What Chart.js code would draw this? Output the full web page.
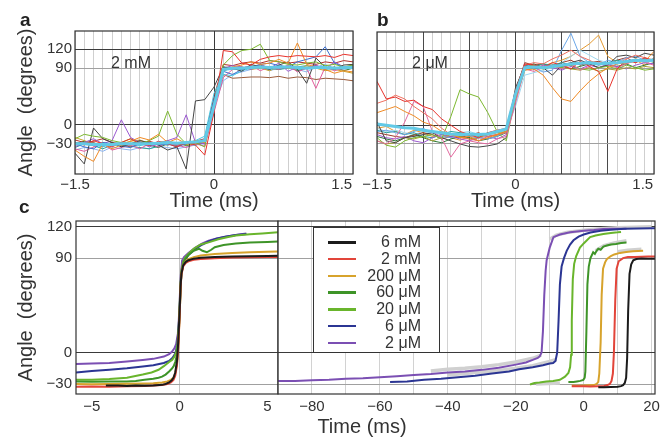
<!DOCTYPE html>
<html>
<head>
<meta charset="utf-8">
<script src="https://cdn.jsdelivr.net/npm/chart.js@4.4.1/dist/chart.umd.min.js"></script>
<style>
  html, body { margin: 0; padding: 0; background: #fff; }
  #wrap { position: relative; width: 661px; height: 439px; background: #fff; overflow: hidden;
          font-family: 'Liberation Sans', Arial, Helvetica, sans-serif; color: #333; }
  canvas { position: absolute; }
  .txt { position: absolute; white-space: nowrap; line-height: 1.2; transform: translate(-50%, -50%); }
  .letter { position: absolute; font-weight: bold; font-size: 19px; line-height: 19px; color: #222; }
  #legend { position: absolute; left: 313px; top: 227px; width: 127px; height: 126px; box-sizing: border-box;
            border: 1px solid #333; background: #fff; padding-top: 6px; z-index: 5; }
  .row { position: relative; height: 16.8px; font-size: 16px; line-height: 16.8px; }
  .row span.ln { position: absolute; left: 14px; top: 7px; width: 28px; height: 2.5px; }
  .row span.lb { position: absolute; right: 18px; top: 0; }
</style>
</head>
<body>
<div id="wrap">
  <canvas id="ca" style="left:0;top:0" width="360" height="215"></canvas>
  <canvas id="cb" style="left:360px;top:0" width="301" height="215"></canvas>
  <canvas id="cl" style="left:0;top:215px" width="280" height="224"></canvas>
  <canvas id="cr" style="left:276px;top:215px" width="385" height="224"></canvas>
  <div class="letter" style="left:20px;top:10px">a</div>
  <div class="letter" style="left:377px;top:10px">b</div>
  <div class="letter" style="left:19px;top:197px">c</div>
  <div class="txt" style="left:131px;top:63px;font-size:16px">2 mM</div>
  <div class="txt" style="left:430px;top:63px;font-size:16px">2 μM</div>
  <div class="txt" style="left:362px;top:426px;font-size:20px">Time (ms)</div>
  <div id="legend"></div>
</div>
<script>
// time axis of the single-event traces (ms)
const tA = [-1.5,-1.4,-1.3,-1.2,-1.1,-1.0,-0.9,-0.8,-0.7,-0.6,-0.5,-0.4,-0.3,-0.2,-0.1,0,
            0.1,0.2,0.3,0.4,0.5,0.6,0.7,0.8,0.9,1.0,1.1,1.2,1.3,1.4,1.5];
const xLabelsAB = [-1.5, 0, 1.5];
const yTicks = [-30, 0, 90, 120];

// panel a, 2 mM : first entry is the thick average
const colorsA = ['#62c9e6','#e8322b','#f08a24','#7cb82f','#444444','#3c6fd0','#9b59d0','#e05a9a',
                 '#46c6e0','#9a5a3a','#c9a227','#2aa198','#b0302a','#2f7a3a','#8ab4f0'];
const tracesA = [
  [-30,-30,-31,-31,-31,-30,-30,-30,-30,-29,-28,-29,-28,-27,-25,30,88,90,90,91,92,91,92,92,91,90,91,91,90,91,91],
  [-28,-32,-25,-30,-35,-28,-22,-30,-33,-26,-30,-35,-28,-32,-48,20,118,116,98,95,104,108,110,108,110,109,108,110,107,112,110],
  [-40,-50,-58,-30,-38,-32,-26,-20,-24,-15,-28,-22,-30,-25,-28,30,88,92,95,100,96,98,104,98,130,96,92,88,82,86,84],
  [-22,-15,-18,-20,-25,-28,-22,-30,-25,-18,22,-15,-30,-28,-35,35,95,110,118,120,128,102,100,96,95,98,100,94,96,92,95],
  [-45,-62,-5,-22,-28,-35,-30,-25,-28,-32,-40,-35,-70,38,40,60,92,90,85,96,92,88,95,100,88,66,106,92,88,95,96],
  [-30,-35,-38,-28,-30,-34,-36,-30,-28,-32,-30,-35,-30,-28,-25,40,85,80,88,92,96,98,94,92,100,104,108,124,98,92,94],
  [-35,-28,-22,-30,-25,8,-20,-28,-35,-30,-25,-20,16,-28,-30,25,90,94,92,88,96,90,98,85,92,90,95,88,100,92,90],
  [-38,-42,-35,-30,-40,-36,-32,-38,-30,-35,-28,-32,-36,-30,-34,20,75,88,90,94,86,92,88,95,84,90,58,92,86,90,94],
  [-28,-30,-32,-35,-30,-28,-30,-33,-30,-28,-32,-30,-28,-25,-18,50,80,78,86,90,92,88,90,92,88,90,92,88,90,92,90],
  [-32,-30,-28,-34,-30,-32,-35,-30,-32,-30,-28,-32,-30,-28,-30,30,80,74,75,76,76,75,77,74,76,75,72,74,73,72,70],
  [-20,-25,-30,-28,-32,-30,-26,-24,-30,-28,-25,-30,-32,-30,-28,30,88,90,92,88,90,86,92,90,88,94,90,86,88,85,82],
  [-36,-30,-33,-38,-32,-30,-34,-36,-38,-34,-30,-33,-30,-32,-28,35,92,88,90,94,90,92,88,90,92,94,90,92,88,90,92],
  [-24,-28,-26,-22,-28,-30,-32,-28,-26,-30,-32,-28,-30,-26,-22,45,96,94,98,100,98,102,100,98,100,98,96,100,98,102,100],
  [-30,-26,-30,-32,-28,-34,-30,-27,-32,-36,-30,-28,-33,-30,-26,40,86,90,88,92,95,90,88,92,86,90,94,88,92,86,90],
  [-40,-36,-38,-42,-35,-38,-40,-36,-38,-34,-36,-38,-35,-32,-30,30,70,80,84,88,92,86,90,94,88,84,92,96,90,88,92]
];

// panel b, 2 uM : first entry is the thick average
const colorsB = ['#62c9e6','#e8322b','#f08a24','#ef7060','#e36aa0','#7cb82f','#444444','#6aa6e8',
                 '#a9a230','#9b59d0','#2aa198','#9a3b2a','#2f7a3a','#9fd8f0','#e59a30'];
const tracesB = [
  [2,0,-2,-4,-5,-8,-10,-12,-14,-15,-14,-15,-14,-10,-6,50,92,93,92,94,96,98,99,100,98,99,100,102,104,103,104],
  [70,42,45,38,40,30,25,10,0,-10,-15,-20,-12,-8,-5,55,98,96,92,100,96,90,102,94,86,54,90,104,100,108,102],
  [20,25,30,22,15,5,0,-10,-15,-20,-18,-25,-20,-15,-10,45,88,90,80,60,42,38,55,70,82,92,98,100,106,102,118],
  [35,40,48,42,30,20,10,-5,-15,-20,-22,-25,-18,-15,-12,50,96,100,98,106,112,120,110,104,96,100,98,106,112,108,104],
  [-25,-30,-20,5,38,30,-10,-20,-51,-30,-25,-28,-30,-22,-18,35,90,86,92,96,90,98,88,94,100,96,92,98,104,100,96],
  [-20,-32,-35,-25,-20,-18,-15,-22,14,57,50,45,20,-10,-25,45,92,96,90,94,92,96,90,88,92,94,90,96,92,88,90],
  [5,-25,-28,-20,-18,-15,-12,-20,-25,-30,-34,-35,-33,-30,-20,60,95,90,92,80,96,100,104,98,92,96,110,112,108,115,112],
  [-10,-8,-12,-15,-10,-5,-12,-18,-20,-15,-18,-20,-22,-18,-10,50,98,92,85,88,120,147,110,100,96,104,100,108,110,104,106],
  [-25,-30,-28,-20,-22,-18,-25,-20,-15,-18,-22,-20,-15,-12,-10,40,88,92,90,94,92,90,88,92,86,90,88,92,90,94,92],
  [-15,-20,-22,-18,-25,-28,-20,-15,-18,-22,-25,-20,-18,-22,-15,40,94,90,96,92,88,94,90,96,92,98,94,90,96,100,98],
  [-8,-12,-10,-15,-12,-18,-20,-15,-10,-12,-15,-18,-12,-10,-6,50,96,94,98,96,100,96,98,102,98,100,104,100,102,106,104],
  [-12,-15,-18,-20,-16,-12,-15,-22,-18,-20,-16,-12,-18,-15,-10,55,100,96,98,94,100,104,96,100,102,98,104,108,100,106,104],
  [-18,-22,-25,-20,-15,-20,-25,-28,-22,-18,-20,-25,-22,-18,-12,45,94,98,92,96,94,90,94,98,92,96,94,98,92,96,100],
  [-5,-10,-8,-12,-15,-10,-12,-14,-16,-12,-10,-15,-18,-12,-8,30,80,84,88,92,100,110,120,112,104,100,98,102,106,100,104],
  [-5,-2,-10,-15,-8,-12,-18,-15,-20,-24,-18,-20,-22,-16,-10,40,92,96,94,100,104,110,120,130,144,110,100,98,104,96,108]
];

// panel c : averaged traces per concentration
const concLabels = ['6 mM', '2 mM', '200 μM', '60 μM', '20 μM', '6 μM', '2 μM'];
const concColors = ['#1b1b1b', '#e2453a', '#d7a32c', '#3e9428', '#69b52c', '#2b3593', '#7b4fb3'];

// left part: aligned on the step (ms)
const cLeftTime = [
  [-4.2,-3.5,-3,-2.5,-2,-1.5,-1,-0.8,-0.6,-0.45,-0.35,-0.25,-0.15,-0.08,0,0.05,0.1,0.2,0.35,0.5,0.8,1.2,2,3,4,5,5.6],
  [-5.9,-5,-4,-3,-2,-1.5,-1,-0.7,-0.5,-0.35,-0.25,-0.15,-0.08,0,0.05,0.1,0.2,0.35,0.5,0.8,1.2,2,3,4,5,5.6],
  [-5.9,-5,-4,-3,-2,-1.5,-1,-0.7,-0.5,-0.35,-0.25,-0.15,-0.08,0,0.05,0.1,0.2,0.35,0.5,0.8,1.2,2,3,4,5,5.6],
  [-5.9,-5,-4,-3,-2.5,-2,-1.5,-1.2,-1,-0.8,-0.6,-0.45,-0.34,-0.25,-0.15,-0.08,0,0.05,0.1,0.2,0.3,0.5,0.8,1.1,1.3,1.55,1.8,2,2.5,3.2,4,5,5.6],
  [-5.9,-5,-4,-3,-2.1,-1.6,-1.2,-0.9,-0.6,-0.43,-0.3,-0.2,-0.12,-0.05,0,0.05,0.1,0.2,0.3,0.5,0.8,1.2,1.65,2.2,2.7,3.2,4,4.7,5.6],
  [-5.9,-5,-4,-3,-2.1,-1.5,-0.9,-0.6,-0.4,-0.25,-0.15,-0.08,0,0.05,0.1,0.2,0.3,0.5,0.9,1.3,1.65,2.1,2.6,3.2,3.8],
  [-5.9,-5,-4,-3,-2.1,-1.5,-0.9,-0.6,-0.43,-0.3,-0.2,-0.1,-0.05,0,0.05,0.14,0.25,0.5,0.9,1.3,1.65,2.1,2.6,3.2,3.8]
];
const cLeftAngle = [
  [-31.5,-31.5,-31.8,-31.5,-31.6,-31.3,-30.8,-30,-28.5,-26.5,-24,-19,-8,10,40,62,75,83,86.5,88,89.5,90.3,91,91.5,91.8,92,92.2],
  [-32.5,-32.3,-32.5,-32,-31.8,-31.5,-31,-30,-28.5,-26,-22,-12,5,35,60,74,82,85.5,87,88.5,89.2,90,90.5,90.8,91,91],
  [-30,-30.2,-30,-29.8,-29.5,-29.2,-28.5,-27.5,-26,-24,-20,-10,5,35,60,75,83,87,89,91,92.5,94,95,95.5,96,96.3],
  [-27.5,-27.8,-27.5,-27.5,-27,-26,-25,-24,-23,-21,-18,-15.5,-13,-9,-2,10,35,60,75,84,89,93,97,99,97,95.6,98,100.4,102.5,104,105,105.5,105.8],
  [-26,-25.8,-25.2,-24,-21,-19,-16.4,-13,-9,-7,-4,0,8,25,45,65,78,86,90,94,99,103,105,108,110,111.5,112.8,113.6,114.6],
  [-19,-17.5,-16.4,-15,-13.3,-12,-10,-8,-5,-1,6,18,40,62,76,84,88,93,99,103,106,108.5,110.5,112,113],
  [-11,-10.5,-10,-8.5,-7,-6,-3.8,-1.5,1,4,8,18,30,48,70,87.8,91,95,100,104,106.7,108.8,110.5,112,113.5]
];

// right part: full time course (ms)
const cRightTime = [
  [4.3,6,8,10,11,11.6,12.1,12.5,12.8,13.1,13.5,14,14.6,15.5,17,19,21],
  [-3.5,-2,0,2,4,6,7,7.7,8.2,8.6,8.9,9.3,9.7,10.3,11.6,13,15,17,19,21],
  [-3.5,-2,0,1.5,3,3.8,4.3,4.6,5,5.3,5.7,6.3,6.8,8,9,10.7,12.5,14.5,16,17.5],
  [-4.5,-3,-2,-1,-0.1,0.3,0.5,0.8,1.1,1.5,2,2.8,3.3,3.8,4.3,5,5.8,6.8,8,9.5,11,12.6],
  [-15.8,-14.5,-13,-11,-9,-7,-5.5,-4.5,-4,-3.7,-3.5,-3.2,-2.8,-2.2,-1.1,0,1.9,3.5,5.8,8,10,11],
  [-57,-52,-47,-42,-37,-32,-27,-22,-19,-15,-12,-10,-9,-8.3,-7.8,-7.4,-7,-6.5,-5.8,-5,-4,-3,-1.5,0,2,5,8,12,16,20,21],
  [-90,-85,-80,-75,-70,-65,-60,-55,-50,-45,-40,-35,-30,-25,-20,-17,-15,-13.5,-12.9,-12.4,-12,-11.6,-11.2,-10.9,-10,-8.9,-7,-4,0,3,5.8,8.6,12.6]
];
const cRightAngle = [
  [-33,-33,-32.8,-32.5,-32,-31,-29,-24,-5,40,75,84,88,89.2,89.6,89.5,89.4],
  [-32,-32.2,-32,-32.3,-32,-31.8,-31,-30,-27,-20,0,50,80,87,90,91,91.2,91.4,91.5,91.5],
  [-31.5,-31.6,-31.4,-31.2,-31,-30,-28,-20,10,55,80,86,89,92,93.5,95,95.8,96.5,96.8,97],
  [-28,-28,-27.5,-27,-26,-24,-18,20,65,82,90,95.6,94,97,99,98,101,102,103,103.5,104.5,105],
  [-30.5,-29,-28.5,-27.5,-27,-26,-23,-19.5,-14,-2,30,70,84.6,92,100,104,110,111.5,113,114,114.6,115],
  [-28,-27.5,-26,-25,-23.5,-22,-20,-18,-16,-14,-12,-10.5,-10,-8,0,30,65,82,90,97,103,107,110.5,112.5,114.5,116,117,118,118.3,118.5,118.5],
  [-27,-27,-26.5,-26,-25,-24.5,-23.5,-22.5,-21.5,-20.5,-19,-18,-16.5,-14.5,-11.5,-9.5,-7,-5,-3.5,0,20,55,78,88,100,110,112.5,114.6,116,116.8,117.8,118,118]
];
// grey shadow traces behind the right part
const shadowTime = [
  [-45,-40,-35,-30,-25,-20,-15,-12.5],
  [-40,-35,-30,-25,-20,-15,-10,-8],
  [-10,-8,-5,0,5,10,15,20],
  [3.5,6,9,12.6],
  [10,13,17],
  [-14,-7]
];
const shadowAngle = [
  [-17.5,-16,-15,-13.5,-11.5,-9,-5.5,-2.5],
  [-21.5,-20,-18.5,-17,-15,-12.5,-8.5,-6.5],
  [108,112,114.5,116.5,118,119,119.5,120],
  [97,102,104.5,106.5],
  [96,97.5,98.5],
  [-30,-29]
];
const cRightTicks = [-90,-80,-70,-60,-50,-40,-30,-20,-10,0,10,20];
const cRightLabels = [-80,-60,-40,-20,0,20];
const cLeftTicks = [-5, 0, 5];

Chart.defaults.font.family = "'Liberation Sans', Arial, Helvetica, sans-serif";
Chart.defaults.color = '#333';

const fmt = v => v < 0 ? '\u2212' + Math.abs(v) : String(v);
// last label of a and b sits flush with the right frame: pad it with spaces on the right
const fmtAB = v => !xLabelsAB.includes(v) ? '' : (v === 1.5 ? '1.5\u2002\u2002\u2002' : fmt(v));
const setTicks = list => s => { s.ticks = list.map(v => ({ value: v })); };
const noPad = size => s => {
  if (s.isHorizontal()) s.height = size; else s.width = size;
  s.paddingLeft = 0; s.paddingRight = 0; s.paddingTop = 0; s.paddingBottom = 0;
};
const yGrid = c => (c.tick.value === 0 || c.tick.value === 120) ? '#3a3a3a' : '#a0a0a0';

const frame = {
  id: 'frame',
  afterDraw(chart) {
    const a = chart.chartArea, c = chart.ctx;
    c.save();
    c.strokeStyle = '#333';
    c.lineWidth = 1.2;
    c.strokeRect(a.left, a.top, a.right - a.left, a.bottom - a.top);
    c.restore();
  }
};

function traceSets(traces, colors) {
  return traces.map((ys, i) => ({
    data: ys.map((y, j) => ({ x: tA[j], y })),
    borderColor: colors[i],
    borderWidth: i === 0 ? 3 : 1,
    pointRadius: 0
  }));
}

function pairSets(times, angles, colors, width) {
  return times.map((ts, i) => ({
    data: ts.map((t, j) => ({ x: t, y: angles[i][j] })),
    borderColor: Array.isArray(colors) ? colors[i] : colors,
    borderWidth: width,
    pointRadius: 0
  }));
}

function baseOptions(pad) {
  return {
    responsive: false, animation: false, devicePixelRatio: 1,
    layout: { padding: pad },
    plugins: { legend: { display: false }, tooltip: { enabled: false } }
  };
}

// panel a
new Chart(document.getElementById('ca'), {
  type: 'line',
  data: { datasets: traceSets(tracesA, colorsA) },
  options: Object.assign(baseOptions({ left: 0, top: 31, right: 7, bottom: 0 }), {
    scales: {
      x: {
        type: 'linear', min: -1.5, max: 1.5,
        afterBuildTicks: setTicks(tA), afterFit: noPad(41),
        border: { display: false },
        grid: { drawTicks: false, color: c => c.tick.value === 0 ? '#3a3a3a' : '#cfcfcf' },
        ticks: { autoSkip: false, maxRotation: 0, padding: 2, font: { size: 15 }, callback: fmtAB },
        title: { display: true, text: 'Time (ms)', font: { size: 20 }, padding: { top: 0, bottom: 2 } }
      },
      y: {
        min: -78, max: 149,
        afterBuildTicks: setTicks(yTicks), afterFit: noPad(75),
        border: { display: false },
        grid: { drawTicks: false, color: yGrid },
        ticks: { padding: 3, font: { size: 15 }, callback: v => fmt(v) },
        title: { display: true, text: 'Angle  (degrees)', font: { size: 20 }, padding: { top: 14, bottom: 0 } }
      }
    }
  }),
  plugins: [frame]
});

// panel b
const darkB = [-1, -0.5, 0, 0.5, 1];
new Chart(document.getElementById('cb'), {
  type: 'line',
  data: { datasets: traceSets(tracesB, colorsB) },
  options: Object.assign(baseOptions({ left: 0, top: 32, right: 7, bottom: 0 }), {
    scales: {
      x: {
        type: 'linear', min: -1.5, max: 1.5,
        afterBuildTicks: setTicks(tA), afterFit: noPad(41),
        border: { display: false },
        grid: { drawTicks: false, color: c => darkB.includes(c.tick.value) ? '#4a4a4a' : '#cfcfcf' },
        ticks: { autoSkip: false, maxRotation: 0, padding: 2, font: { size: 15 }, callback: fmtAB },
        title: { display: true, text: 'Time (ms)', font: { size: 20 }, padding: { top: 0, bottom: 2 } }
      },
      y: {
        min: -78, max: 149,
        afterBuildTicks: setTicks(yTicks), afterFit: noPad(17),
        border: { display: false },
        grid: { drawTicks: false, color: yGrid },
        ticks: { display: false }
      }
    }
  }),
  plugins: [frame]
});

// panel c, left (aligned on the step)
new Chart(document.getElementById('cl'), {
  type: 'line',
  data: { datasets: pairSets(cLeftTime, cLeftAngle, concColors, 2) },
  options: Object.assign(baseOptions({ left: 0, top: 6, right: 2, bottom: 0 }), {
    scales: {
      x: {
        type: 'linear', min: -5.9, max: 5.6,
        afterBuildTicks: setTicks(cLeftTicks), afterFit: noPad(45),
        border: { display: false },
        grid: { drawTicks: false, color: c => c.tick.value === 0 ? '#c4c4c4' : 'rgba(0,0,0,0)' },
        ticks: { autoSkip: false, maxRotation: 0, padding: 4, font: { size: 15 }, callback: v => fmt(v) }
      },
      y: {
        min: -39.5, max: 125.4,
        afterBuildTicks: setTicks(yTicks), afterFit: noPad(76),
        border: { display: false },
        grid: { drawTicks: false, color: yGrid },
        ticks: { padding: 4, font: { size: 15 }, callback: v => fmt(v) },
        title: { display: true, text: 'Angle  (degrees)', font: { size: 20 }, padding: { top: 14, bottom: 0 } }
      }
    }
  }),
  plugins: [frame]
});

// panel c, right (full time course)
new Chart(document.getElementById('cr'), {
  type: 'line',
  data: { datasets: pairSets(cRightTime, cRightAngle, concColors, 2)
                      .concat(pairSets(shadowTime, shadowAngle, '#d0d0d0', 3.5)) },
  options: Object.assign(baseOptions({ left: 0, top: 6, right: 6, bottom: 0 }), {
    scales: {
      x: {
        type: 'linear', min: -90, max: 21,
        afterBuildTicks: setTicks(cRightTicks), afterFit: noPad(45),
        border: { display: false },
        grid: { drawTicks: false, color: '#d2d2d2' },
        ticks: { autoSkip: false, maxRotation: 0, padding: 4, font: { size: 15 },
                 callback: v => cRightLabels.includes(v) ? fmt(v) : '' }
      },
      y: {
        min: -39.5, max: 125.4,
        afterBuildTicks: setTicks(yTicks), afterFit: noPad(2),
        border: { display: false },
        grid: { drawTicks: false, color: yGrid },
        ticks: { display: false }
      }
    }
  }),
  plugins: [frame]
});

// legend box of panel c
document.getElementById('legend').innerHTML = concLabels.map((lab, i) =>
  '<div class="row"><span class="ln" style="background:' + concColors[i] + '"></span>' +
  '<span class="lb">' + lab + '</span></div>').join('');
</script>
</body>
</html>
